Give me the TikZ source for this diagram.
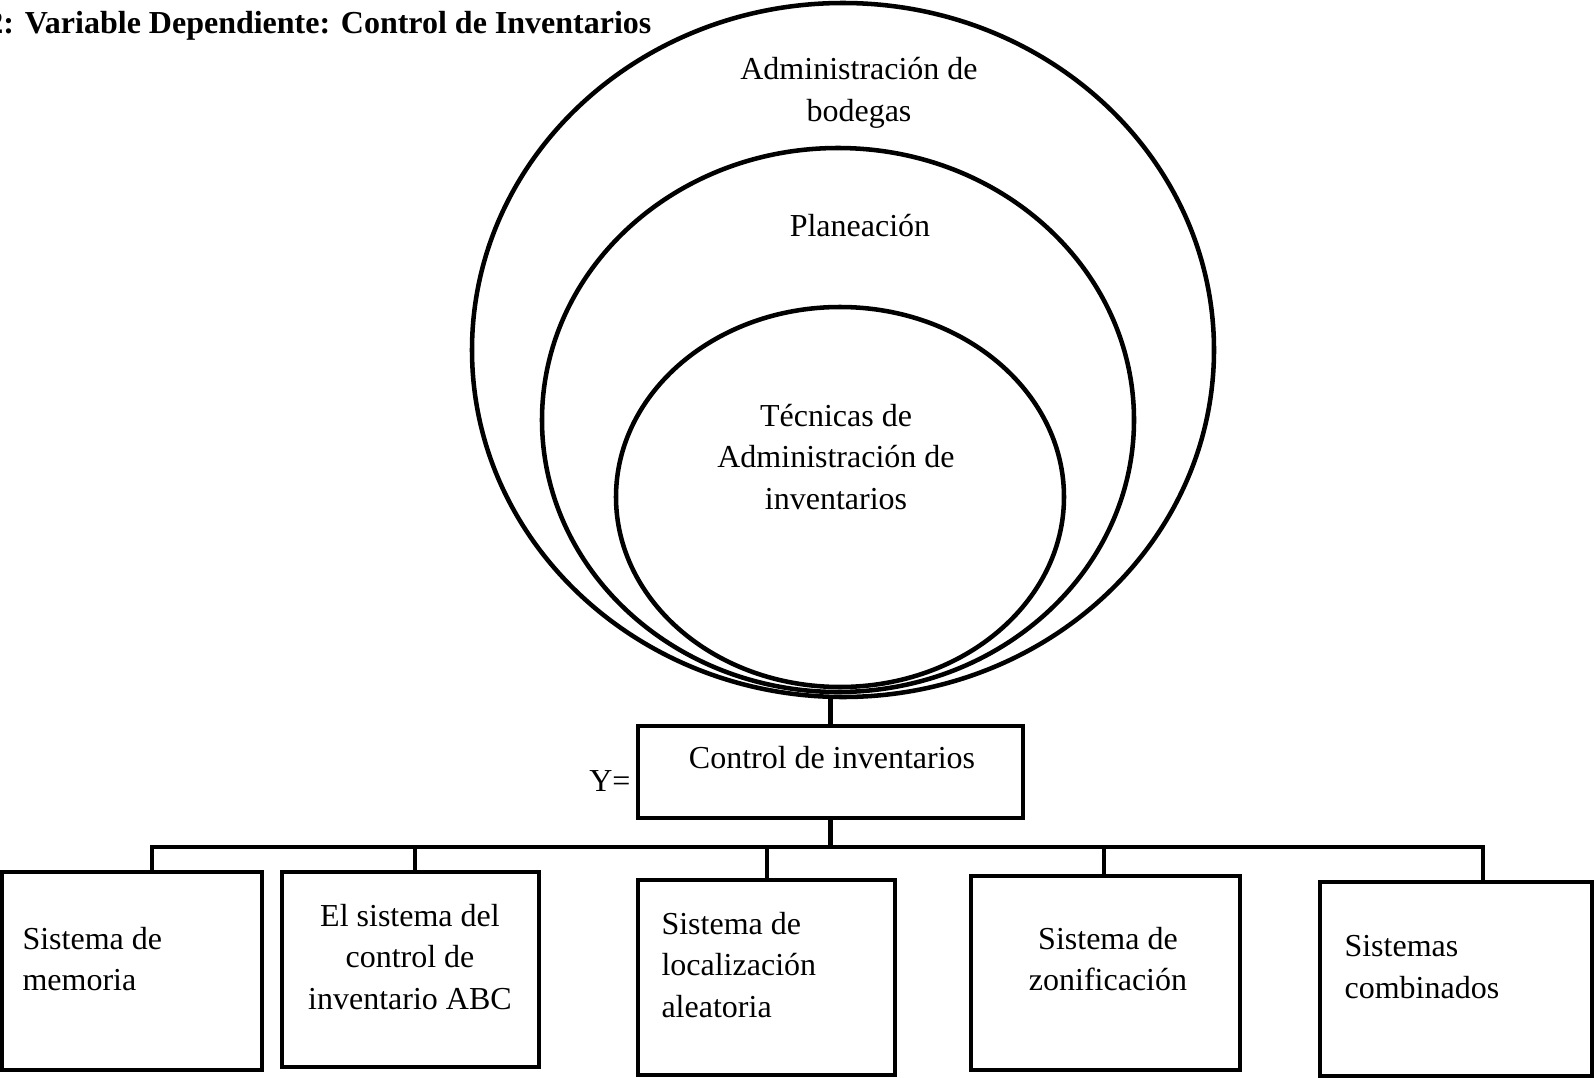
\documentclass[tikz,border=0pt]{standalone}
\usepackage{fontspec}
\setmainfont{Liberation Serif}
\usetikzlibrary{shapes.geometric, fit}
\newcommand{\pxu}{0.375pt}

\begin{document}
\begin{tikzpicture}[
    x=\pxu, y=-\pxu,
    font=\fontsize{12}{15.7}\selectfont,
    ring/.style={ellipse, draw=black, line width=1.7pt, inner sep=0pt},
    box/.style={rectangle, draw=black, line width=1.8pt, inner sep=0pt},
    txt/.style={inner sep=0pt, align=center},
    link/.style={draw=black, line width=1.7pt, line cap=rect}
]
    \useasboundingbox (0,0) rectangle (1594,1078);

    % Title
    \node[anchor=base east, inner sep=0pt, font=\fontsize{12}{15.7}\selectfont\bfseries] (title) at (652,33) {2: Variable Dependiente: Control de Inventarios};

    % Nested ellipses
    \node[ring, minimum width=742*\pxu, minimum height=694*\pxu] (bodegas) at (843,350) {};
    \node[ring, minimum width=592*\pxu, minimum height=544*\pxu] (planeacion) at (838,420) {};
    \node[ring, minimum width=448*\pxu, minimum height=380*\pxu] (tecnicas) at (840,497) {};

    \node[txt] (bodegas-txt) at (859,93) {Administración de\\bodegas};
    \node[txt, anchor=base] (planeacion-txt) at (860,236) {Planeación};
    \node[txt] (tecnicas-txt) at (836,457) {Técnicas de\\Administración de\\inventarios};

    % Dependent variable
    \node[box, fit={(638,726) (1023,818)}] (control) {};
    \node[txt, anchor=base] (control-txt) at (832,768) {Control de inventarios};
    \node[txt, anchor=base east] (y-txt) at (631,791) {Y=};
    \draw[link] (control.north) -- (control.north |- bodegas.south);

    % Dimensions
    \node[box, fit={(2,872) (262,1070)}] (memoria) {};
    \node[box, fit={(282,872) (539,1067)}] (abc) {};
    \node[box, fit={(638,880) (895,1075)}] (aleatoria) {};
    \node[box, fit={(971,876) (1240,1070)}] (zonas) {};
    \node[box, fit={(1320,882) (1592,1076)}] (combinados) {};

    \node[txt, align=left, anchor=west] (memoria-txt) at (22,959) {Sistema de\\memoria};
    \node[txt] (abc-txt) at (410,957) {El sistema del\\control de\\inventario ABC};
    \node[txt, align=left, anchor=west] (aleatoria-txt) at (661,965) {Sistema de\\localización\\aleatoria};
    \node[txt] (zonas-txt) at (1108,959) {Sistema de\\zonificación};
    \node[txt, align=left, anchor=west] (combinados-txt) at (1344,967) {Sistemas\\combinados};

    % Tree connectors
    \coordinate (bus) at (0,847);
    \draw[link] (control.south) -- (control.south |- bus);
    \draw[link] (152,847) -- (1483,847);
    \foreach \b/\x in {memoria/152, abc/415, aleatoria/767, zonas/1104, combinados/1483}
        \draw[link] (\x,847) -- (\x,0 |- \b.north);
\end{tikzpicture}
\end{document}
